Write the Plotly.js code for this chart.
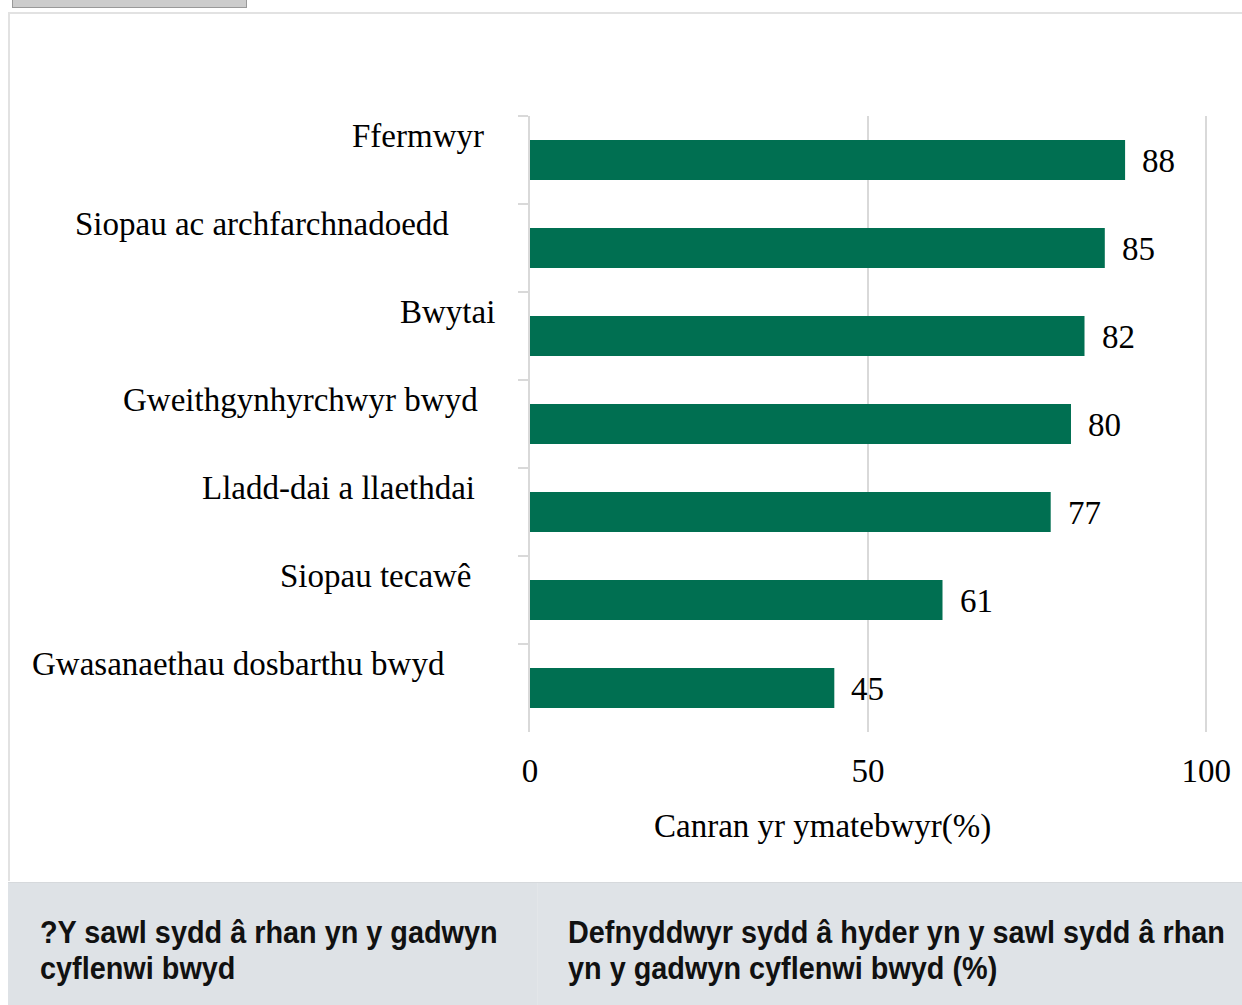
<!DOCTYPE html>
<html>
<head>
<meta charset="utf-8">
<script src="https://cdn.plot.ly/plotly-3.0.1.min.js"></script>
<style>
  html, body { margin:0; padding:0; width:1242px; height:1005px; overflow:hidden; background:#ffffff; }
  #btn { position:absolute; left:12px; top:-2px; width:233px; height:8px; background:#cccccc; border:1px solid #999999; }
  #frame { position:absolute; left:8px; top:12px; width:1250px; height:869px; border-left:2px solid #e2e2e2; border-top:2px solid #e2e2e2; box-sizing:border-box; }
  #chart { position:absolute; left:0; top:0; width:1242px; height:883px; }
  #footer { position:absolute; left:8px; top:882px; width:1234px; height:123px; background:#dee2e6; border-top:1px solid #d6d9dc; box-sizing:border-box; font-family:"Liberation Sans", Arial, sans-serif; font-weight:bold; font-size:31px; color:#111; }
  .col { position:absolute; top:0; height:123px; box-sizing:border-box; line-height:36px; }
  .col span { display:inline-block; transform:scaleX(0.93); transform-origin:left center; white-space:nowrap; }
  #c1 { left:0; width:529px; padding:32px 0 0 32px; }
  #c2 { left:529px; width:705px; padding:32px 0 0 30px; border-left:1px solid #e3e6e9; background:#dfe3e7; }
</style>
</head>
<body>
<div id="btn"></div>
<div id="frame"></div>
<div id="chart"></div>
<div id="footer">
  <div class="col" id="c1"><span>?Y sawl sydd â rhan yn y gadwyn<br>cyflenwi bwyd</span></div>
  <div class="col" id="c2"><span>Defnyddwyr sydd â hyder yn y sawl sydd â rhan<br>yn y gadwyn cyflenwi bwyd (%)</span></div>
</div>
<script>
const categories = ["Ffermwyr", "Siopau ac archfarchnadoedd", "Bwytai", "Gweithgynhyrchwyr bwyd", "Lladd-dai a llaethdai", "Siopau tecawê", "Gwasanaethau dosbarthu bwyd"];
const values = [88, 85, 82, 80, 77, 61, 45];
const xTickVals = [0, 50, 100];
const xTickText = ["0", "50", "100"];
const axisTitle = "Canran yr ymatebwyr(%)";

// label placement offsets (layout only)
const labelXShift = [-43, -78, -32, -49, -52, -55, -82];

const serif = "Liberation Serif, Times New Roman, serif";
const annotations = [];
categories.forEach((c, i) => {
  annotations.push({ x: 0, y: c, xref: 'x', yref: 'y', text: c, showarrow: false,
    xanchor: 'right', yanchor: 'middle', xshift: labelXShift[i] - 1, yshift: 24,
    font: { family: serif, size: 33, color: '#000' } });
  annotations.push({ x: values[i], y: c, xref: 'x', yref: 'y', text: String(values[i]), showarrow: false,
    xanchor: 'left', yanchor: 'middle', xshift: 15, yshift: -1,
    font: { family: serif, size: 33, color: '#000' } });
});
annotations.push({ x: 0.428, y: -0.154, xref: 'paper', yref: 'paper', text: axisTitle, showarrow: false,
  xanchor: 'center', yanchor: 'middle', font: { family: serif, size: 33, color: '#000' } });

const trace = {
  type: 'bar', orientation: 'h', y: categories, x: values,
  marker: { color: '#006f51', line: { width: 0 } },
  hoverinfo: 'none'
};

const layout = {
  width: 1242, height: 883,
  margin: { l: 530, r: 29, t: 116, b: 151, pad: 0 },
  paper_bgcolor: 'rgba(0,0,0,0)', plot_bgcolor: 'rgba(0,0,0,0)',
  showlegend: false,
  bargap: 0.545,
  font: { family: serif, size: 33, color: '#000' },
  xaxis: { range: [0, 101], tickvals: xTickVals, ticktext: xTickText, showgrid: true,
    gridcolor: '#d9d9d9', gridwidth: 2, zeroline: false, showline: false, ticks: '',
    ticklabelstandoff: 16, tickfont: { family: serif, size: 33, color: '#000' } },
  yaxis: { type: 'category', autorange: 'reversed', showticklabels: false, showgrid: false,
    zeroline: false, showline: true, linecolor: '#d9d9d9', linewidth: 2,
    ticks: 'outside', tickson: 'boundaries', ticklen: 10, tickcolor: '#d9d9d9', tickwidth: 2 },
  annotations: annotations
};

Plotly.newPlot('chart', [trace], layout, { staticPlot: true, displayModeBar: false });
</script>
</body>
</html>
